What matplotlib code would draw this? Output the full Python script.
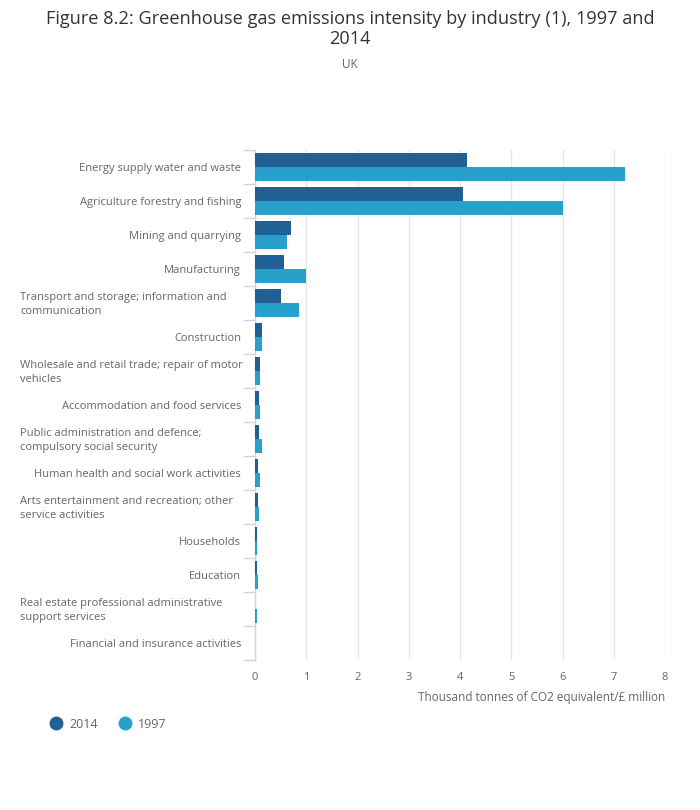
import numpy as np
import matplotlib
matplotlib.use('Agg')
import matplotlib.pyplot as plt
from matplotlib import transforms

plt.rcParams['font.family'] = ['Open Sans', 'DejaVu Sans']

# values
industries = ["Energy supply water and waste",
              "Agriculture forestry and fishing",
              "Mining and quarrying",
              "Manufacturing",
              "Transport and storage; information and\ncommunication",
              "Construction",
              "Wholesale and retail trade; repair of motor\nvehicles",
              "Accommodation and food services",
              "Public administration and defence;\ncompulsory social security",
              "Human health and social work activities",
              "Arts entertainment and recreation; other\nservice activities",
              "Households",
              "Education",
              "Real estate professional administrative\nsupport services",
              "Financial and insurance activities"]
vals_2014 = [4.13, 4.05, 0.71, 0.56, 0.50, 0.13, 0.09, 0.07, 0.07, 0.05, 0.05, 0.03, 0.03, 0.005, 0.0]
vals_1997 = [7.22, 6.00, 0.63, 1.00, 0.85, 0.13, 0.09, 0.09, 0.13, 0.09, 0.07, 0.03, 0.05, 0.03, 0.0]
xticks = [0, 1, 2, 3, 4, 5, 6, 7, 8]

c2014 = '#206095'
c1997 = '#27a0cc'
txt = '#666666'

W, H = 700, 810
fig = plt.figure(figsize=(7, 8.1), dpi=100)
ax = fig.add_axes([255 / W, 1 - 660 / H, (665 - 255) / W, (660 - 150) / H])

y = np.arange(len(industries))
bh = 14 / 34
ax.barh(y - bh / 2, vals_2014, height=bh, color=c2014, zorder=3, label='2014')
ax.barh(y + bh / 2, vals_1997, height=bh, color=c1997, zorder=3, label='1997')

ax.set_xlim(0, 8)
ax.set_ylim(len(industries) - 0.5, -0.5)
ax.set_xticks(xticks)
ax.set_xticklabels([str(t) for t in xticks])
ax.tick_params(axis='x', length=0, labelsize=8, colors=txt, pad=9)
ax.grid(axis='x', color='#e6e6e6', linewidth=1, zorder=0)

ax.set_yticks([])
ax.set_yticks(np.arange(len(industries) + 1) - 0.5, minor=True)
ax.tick_params(axis='y', which='minor', length=9, width=1, color='#ccd6eb', labelleft=False)

for s in ['top', 'right', 'bottom']:
    ax.spines[s].set_visible(False)
ax.spines['left'].set_color('#ccd6eb')
ax.spines['left'].set_linewidth(1)
ax.spines['left'].set_zorder(2)

# category labels
tr = transforms.blended_transform_factory(fig.transFigure, ax.transData)
off = 1.5 / 34
for i, name in enumerate(industries):
    if '\n' in name:
        ax.text(20 / W, i + off, name, transform=tr, ha='left', va='center',
                fontsize=8, color=txt, linespacing=1.45)
    else:
        ax.text(241 / W, i + off, name, transform=tr, ha='right', va='center',
                fontsize=8, color=txt)

fig.text(665 / W, 1 - 697 / H, 'Thousand tonnes of CO2 equivalent/£ million',
         ha='right', va='center', fontsize=8.45, color=txt)

fig.text(0.5, 1 - 29 / H, 'Figure 8.2: Greenhouse gas emissions intensity by industry (1), 1997 and\n2014',
         ha='center', va='center', fontsize=13.1, color='#333333', linespacing=1.1)
fig.text(0.5, 1 - 65 / H, 'UK', ha='center', va='center', fontsize=8.5, color=txt)

# legend drawn by hand: round markers with labels
for c, xp, lbl in [(c2014, 56, '2014'), (c1997, 125, '1997')]:
    fig.lines.append(plt.Line2D([xp / W], [1 - 723 / H], marker='o', markersize=9, color=c,
                                transform=fig.transFigure, linestyle='none'))
    fig.text((xp + 13) / W, 1 - 724 / H, lbl, ha='left', va='center', fontsize=9, color=txt)

fig.savefig('out.png', dpi=100, facecolor='white')
